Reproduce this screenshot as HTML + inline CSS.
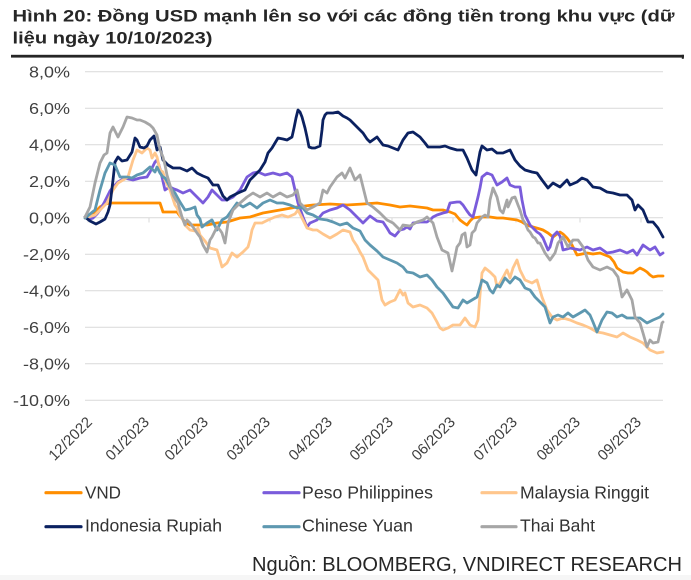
<!DOCTYPE html>
<html>
<head>
<meta charset="utf-8">
<style>
html,body{margin:0;padding:0;background:#fff;}
svg{display:block;}
text{font-family:"Liberation Sans","DejaVu Sans",sans-serif;}
</style>
</head>
<body>
<svg width="691" height="580" viewBox="0 0 691 580" xmlns="http://www.w3.org/2000/svg">
<rect x="0" y="0" width="691" height="580" fill="#ffffff"/>
<rect x="0" y="575" width="691" height="5" fill="#f6f6f6"/>

<!-- Title -->
<text x="12.5" y="21.5" font-size="16.5" font-weight="bold" fill="#262626" textLength="662" lengthAdjust="spacingAndGlyphs">Hình 20: Đồng USD mạnh lên so với các đồng tiền trong khu vực (dữ</text>
<text x="12.5" y="43.5" font-size="16.5" font-weight="bold" fill="#262626" textLength="200" lengthAdjust="spacingAndGlyphs">liệu ngày 10/10/2023)</text>
<rect x="11" y="54.8" width="673" height="2.8" fill="#262626"/>
<rect x="681.8" y="54.8" width="2" height="4" fill="#262626"/>

<!-- Grid -->
<g stroke="#d9d9d9" stroke-width="1">
<line x1="85" y1="71.7" x2="663" y2="71.7"/>
<line x1="85" y1="108.2" x2="663" y2="108.2"/>
<line x1="85" y1="144.7" x2="663" y2="144.7"/>
<line x1="85" y1="181.2" x2="663" y2="181.2"/>
<line x1="85" y1="217.7" x2="663" y2="217.7"/>
<line x1="85" y1="254.2" x2="663" y2="254.2"/>
<line x1="85" y1="290.7" x2="663" y2="290.7"/>
<line x1="85" y1="327.2" x2="663" y2="327.2"/>
<line x1="85" y1="363.7" x2="663" y2="363.7"/>
<line x1="85" y1="400.2" x2="663" y2="400.2"/>
<line x1="88" y1="217.7" x2="88" y2="222.5"/>
<line x1="149" y1="217.7" x2="149" y2="222.5"/>
<line x1="211" y1="217.7" x2="211" y2="222.5"/>
<line x1="270" y1="217.7" x2="270" y2="222.5"/>
<line x1="332" y1="217.7" x2="332" y2="222.5"/>
<line x1="392" y1="217.7" x2="392" y2="222.5"/>
<line x1="453" y1="217.7" x2="453" y2="222.5"/>
<line x1="516" y1="217.7" x2="516" y2="222.5"/>
<line x1="580" y1="217.7" x2="580" y2="222.5"/>
<line x1="641" y1="217.7" x2="641" y2="222.5"/>
</g>

<!-- Y labels -->
<g font-size="15.5" fill="#404040" text-anchor="end">
<text x="70" y="77.3" textLength="41" lengthAdjust="spacingAndGlyphs">8,0%</text>
<text x="70" y="113.8" textLength="41" lengthAdjust="spacingAndGlyphs">6,0%</text>
<text x="70" y="150.3" textLength="41" lengthAdjust="spacingAndGlyphs">4,0%</text>
<text x="70" y="186.8" textLength="41" lengthAdjust="spacingAndGlyphs">2,0%</text>
<text x="70" y="223.3" textLength="41" lengthAdjust="spacingAndGlyphs">0,0%</text>
<text x="70" y="259.8" textLength="47" lengthAdjust="spacingAndGlyphs">-2,0%</text>
<text x="70" y="296.3" textLength="47" lengthAdjust="spacingAndGlyphs">-4,0%</text>
<text x="70" y="332.8" textLength="47" lengthAdjust="spacingAndGlyphs">-6,0%</text>
<text x="70" y="369.3" textLength="47" lengthAdjust="spacingAndGlyphs">-8,0%</text>
<text x="70" y="405.8" textLength="57" lengthAdjust="spacingAndGlyphs">-10,0%</text>
</g>

<!-- X labels -->
<g font-size="15" fill="#404040" text-anchor="end">
<text transform="translate(93,423) rotate(-45)">12/2022</text>
<text transform="translate(150,423) rotate(-45)">01/2023</text>
<text transform="translate(209,423) rotate(-45)">02/2023</text>
<text transform="translate(271,423) rotate(-45)">03/2023</text>
<text transform="translate(333,423) rotate(-45)">04/2023</text>
<text transform="translate(394,423) rotate(-45)">05/2023</text>
<text transform="translate(456,423) rotate(-45)">06/2023</text>
<text transform="translate(518,423) rotate(-45)">07/2023</text>
<text transform="translate(581,423) rotate(-45)">08/2023</text>
<text transform="translate(642,423) rotate(-45)">09/2023</text>
</g>

<!-- Series -->
<g fill="none" stroke-width="2.8" stroke-linejoin="round" stroke-linecap="round">
<!-- VND -->
<polyline stroke="#FF8E00" points="85,217 90,215 95,212 100,207 105,204 110,203 120,203 130,203 140,203 150,203 160,203 162,209 163,212 170,212 177,212 180,216 185,222 190,225 195,225 207,225 217,223 227,222 240,218 250,217 263,213 280,210 297,207 313,205 330,204 347,205 363,204 377,203 390,205 400,207 410,206 427,208 433,210 443,210 450,212 455,214 460,220 464,223 467,225 470,221 473,218 480,217 490,217 497,218 503,218 510,219 517,220 522,222 527,225 533,227 540,229 543,230 548,233 553,237 557,234 560,232 563,234 567,238 572,245 577,255 582,254 587,253 593,254 600,253 605,255 610,257 614,262 617,268 620,270 623,272 628,273 633,273 637,270 640,268 644,270 647,272 650,275 653,277 658,276 663,276"/>
<!-- Peso -->
<polyline stroke="#7A5CDB" points="85,217 90,219 93,218 97,214 100,210 104,203 107,197 110,191 113,187 118,182 125,178 133,180 140,178 147,177 150,172 152,168 155,162 157,160 159,165 162,177 165,190 168,188 170,187 174,189 177,190 183,193 190,190 197,197 203,203 208,197 212,190 217,195 222,200 227,200 233,197 240,190 247,177 253,173 258,172 265,175 273,173 280,175 287,173 292,177 295,190 298,203 303,217 307,227 310,223 317,220 323,213 330,210 337,208 343,205 350,210 357,217 363,223 370,216 377,221 383,222 387,228 390,233 395,236 400,230 404,229 407,227 410,229 413,223 420,222 427,222 430,220 433,217 437,215 443,213 447,212 450,203 457,202 460,202 463,205 467,211 470,215 473,217 476,205 478,197 480,188 482,177 487,173 492,175 497,185 502,182 507,178 510,185 515,187 520,187 522,200 525,215 530,225 537,232 540,234 543,238 548,250 550,247 553,236 557,232 560,236 563,250 567,249 570,248 575,249 580,250 587,247 593,250 600,248 607,253 613,252 620,250 627,253 633,250 637,255 643,245 650,250 655,247 660,255 663,253"/>
<!-- Malaysia -->
<polyline stroke="#FFC68C" points="85,218 95,215 100,210 107,203 113,190 118,183 123,180 128,177 133,160 137,150 142,153 147,148 150,150 152,158 155,153 157,157 160,170 163,172 165,180 170,190 175,205 177,208 180,215 183,220 185,225 190,230 195,231 198,228 200,235 205,241 210,248 217,250 220,260 222,267 227,263 232,253 237,257 243,252 248,247 250,240 252,230 255,223 262,223 268,220 275,217 282,215 288,217 295,214 298,210 303,220 307,228 313,230 317,230 323,234 330,238 337,234 343,230 350,232 353,240 357,246 360,252 363,257 368,270 373,275 378,280 382,300 385,305 390,302 395,300 400,290 403,295 405,293 408,303 413,307 420,305 427,308 432,313 437,322 440,328 443,330 448,328 453,325 460,325 465,318 470,325 475,327 478,320 480,295 482,273 485,268 490,272 495,277 497,287 500,283 507,270 510,278 513,268 517,260 520,270 525,280 532,283 537,280 542,297 547,310 552,317 557,320 563,318 570,320 577,323 583,325 590,328 597,332 603,333 610,335 617,337 623,333 630,337 637,340 643,343 650,350 657,353 663,352"/>
<!-- Indonesia -->
<polyline stroke="#0B2160" points="85,217 90,221 96,224 100,222 105,219 108,212 110,205 113,180 115,162 118,157 122,161 127,160 132,152 135,138 137,140 140,147 144,148 147,146 150,140 152,138 154,136 157,150 160,147 163,160 168,165 173,168 180,168 187,171 192,168 197,173 203,176 208,178 213,185 218,185 223,196 227,200 230,197 238,193 245,190 250,180 253,177 260,170 265,162 268,153 272,148 275,143 278,138 283,139 287,140 292,137 294,128 296,118 298,110 300,112 302,117 305,128 307,137 309,147 312,148 315,148 320,146 322,130 323,120 325,115 327,113 333,113 338,112 343,116 347,118 350,120 357,127 363,133 367,139 370,142 377,137 383,145 388,146 393,148 398,150 403,140 408,133 413,132 420,137 425,143 428,147 433,147 440,147 445,146 450,148 457,150 463,150 467,158 472,170 476,175 478,163 480,152 482,146 487,150 492,149 497,153 503,153 510,150 515,160 520,166 525,170 532,172 537,173 542,180 548,188 553,183 560,187 567,180 570,185 577,182 582,178 587,180 593,187 600,188 607,192 613,193 620,195 627,195 632,200 635,210 638,205 643,210 648,222 653,222 658,228 663,237"/>
<!-- Chinese Yuan -->
<polyline stroke="#5E98B0" points="85,218 90,214 95,210 100,190 105,173 110,163 115,165 120,177 127,177 132,178 137,175 143,173 150,167 155,172 157,167 160,173 163,177 165,178 168,183 170,187 175,193 180,202 185,210 190,209 195,207 197,215 200,219 202,227 207,223 212,220 217,230 220,224 222,220 227,217 232,210 237,203 243,207 250,203 257,208 263,203 270,200 277,203 283,203 290,205 297,208 302,207 307,213 313,215 320,219 327,220 333,222 340,225 347,223 353,228 360,231 365,240 370,245 377,251 383,257 390,260 397,263 403,267 407,272 413,273 420,277 427,275 432,280 437,287 443,293 448,300 453,307 458,308 463,300 467,303 472,300 477,297 482,280 487,283 490,290 493,293 497,285 500,287 505,278 510,283 515,277 520,280 525,288 530,290 535,297 540,302 545,307 550,323 553,317 558,315 563,317 568,313 573,317 580,313 585,310 590,315 593,322 597,332 602,320 607,312 612,313 617,317 622,315 627,318 633,318 640,318 647,323 653,320 660,317 663,314"/>
<!-- Thai Baht -->
<polyline stroke="#A6A6A6" points="85,217 90,207 95,183 100,163 104,155 107,153 110,133 113,127 118,137 123,127 127,117 132,118 137,120 140,120 145,122 150,125 153,128 157,135 160,150 163,157 165,165 167,175 170,185 173,195 176,200 178,203 180,210 182,217 185,225 187,220 190,223 193,227 197,233 200,237 203,245 207,252 210,240 212,237 217,227 220,230 222,233 225,243 228,223 233,210 240,203 247,197 253,193 260,197 267,193 273,197 280,193 287,197 293,195 297,190 300,203 307,210 313,207 320,203 323,190 327,193 330,187 337,177 342,173 345,178 350,168 355,180 360,175 363,187 367,203 373,207 380,213 387,220 393,223 397,227 400,230 403,225 410,226 417,222 423,220 427,217 433,223 437,237 442,250 448,253 452,271 455,257 457,247 460,243 462,235 465,233 467,247 470,245 472,233 475,230 477,223 482,217 485,215 488,217 490,200 493,188 497,197 500,210 503,213 507,200 508,207 512,198 515,197 518,205 520,210 523,220 525,223 528,230 530,232 533,237 535,238 538,243 540,243 545,253 550,260 555,253 558,243 563,237 568,247 573,240 578,240 583,247 588,260 593,267 600,270 607,267 613,270 618,277 622,297 627,290 632,300 635,317 640,323 643,333 647,347 650,340 653,343 658,342 660,333 662,323 663,322"/>
</g>

<!-- Legend -->
<g stroke-width="3.2" stroke-linecap="round">
<line x1="46" y1="492.7" x2="81" y2="492.7" stroke="#FF8E00"/>
<line x1="264" y1="492.7" x2="299" y2="492.7" stroke="#7A5CDB"/>
<line x1="482" y1="492.7" x2="516" y2="492.7" stroke="#FFC68C"/>
<line x1="46" y1="526.7" x2="81" y2="526.7" stroke="#0B2160"/>
<line x1="264" y1="526.7" x2="299" y2="526.7" stroke="#5E98B0"/>
<line x1="482" y1="526.7" x2="516" y2="526.7" stroke="#A6A6A6"/>
</g>
<g font-size="17.5" fill="#333333">
<text x="85" y="498.5" textLength="36" lengthAdjust="spacingAndGlyphs">VND</text>
<text x="302" y="498.5" textLength="131" lengthAdjust="spacingAndGlyphs">Peso Philippines</text>
<text x="520" y="498.5" textLength="129" lengthAdjust="spacingAndGlyphs">Malaysia Ringgit</text>
<text x="85" y="531.7" textLength="137" lengthAdjust="spacingAndGlyphs">Indonesia Rupiah</text>
<text x="302" y="531.7" textLength="111" lengthAdjust="spacingAndGlyphs">Chinese Yuan</text>
<text x="520" y="531.7" textLength="75" lengthAdjust="spacingAndGlyphs">Thai Baht</text>
</g>

<!-- Source -->
<text x="252" y="571" font-size="20" fill="#262626" textLength="430" lengthAdjust="spacingAndGlyphs">Nguồn: BLOOMBERG, VNDIRECT RESEARCH</text>
</svg>
</body>
</html>
